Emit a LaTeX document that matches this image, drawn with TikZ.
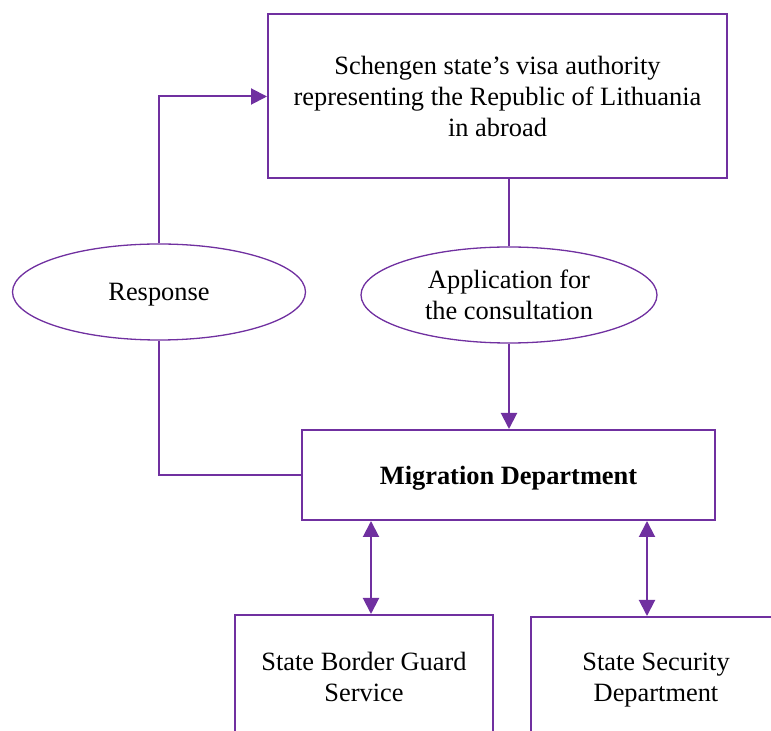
\documentclass[tikz,border=0pt]{standalone}
\usepackage{fontspec}
\setmainfont{Liberation Serif}
\usetikzlibrary{shapes.geometric,arrows.meta}
\definecolor{violetline}{HTML}{7030A0}
\begin{document}
\begin{tikzpicture}[x=0.5pt, y=-0.5pt, line width=1pt, font=\fontsize{13.2pt}{15.5pt}\selectfont,
		box/.style = {draw=violetline, rectangle, align=center, inner sep=2pt},
		oval/.style = {draw=violetline, ellipse, line width=0.65pt, align=center, inner sep=0pt},
		link/.style = {draw=violetline, -{Triangle[length=8pt,width=8pt]}}]

		\useasboundingbox (0,0) rectangle (771,731);
		\clip (0,0) rectangle (771,731);

		\node[box, minimum width=229.5pt, minimum height=82pt] (visa) at (497.5,96.5) {Schengen state’s visa authority\\representing the Republic of Lithuania\\in abroad};
		\node[oval, minimum width=146.5pt, minimum height=48pt, text depth=0pt] (resp) at (159,292) {Response};
		\node[oval, minimum width=148pt, minimum height=48pt] (appl) at (509,295) {Application for\\the consultation};
		\node[box, minimum width=206.5pt, minimum height=45pt, text depth=0pt] (migr) at (508.5,475) {\textbf{Migration Department}};
		\node[box, minimum width=129pt, minimum height=62pt] (guard) at (364,677) {State Border Guard\\Service};
		\node[box, minimum width=125pt, minimum height=63pt] (secur) at (656,680) {State Security\\Department};

		\coordinate (g) at (371,0);
		\coordinate (s) at (647,0);

		\draw[violetline] (visa.south -| appl.north) -- (appl.north);
		\draw[link] (appl.south) -- (appl.south |- migr.north);
		\draw[violetline] (migr.west) -| (resp.south);
		\draw[link] (resp.north) |- (visa.west);
		\draw[link, {Triangle[length=8pt,width=8pt]}-{Triangle[length=8pt,width=8pt]}] (migr.south -| g) -- (guard.north -| g);
		\draw[link, {Triangle[length=8pt,width=8pt]}-{Triangle[length=8pt,width=8pt]}] (migr.south -| s) -- (secur.north -| s);

	\end{tikzpicture}
\end{document}
